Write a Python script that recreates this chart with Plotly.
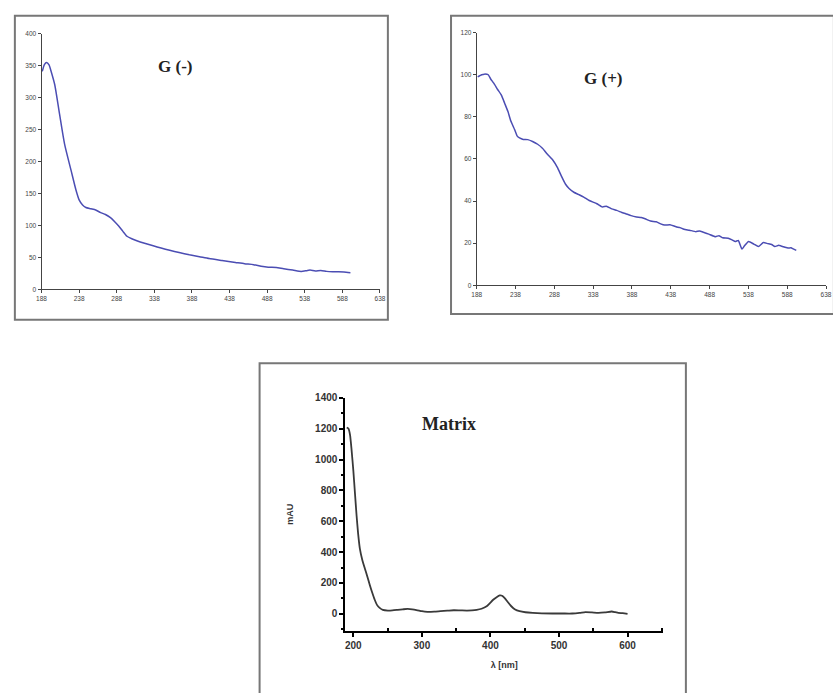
import plotly.graph_objects as go

W, H = 833, 693

# ---- data: G(-) ----
gneg_x = [189, 192, 194.7, 198, 201, 205.6, 212, 218.6, 227.3, 233.9, 238, 242.6, 247, 253.5, 260, 266.6,
          273, 279.7, 285, 290.6, 296, 301.6, 308, 314.7, 325, 336.5, 347, 358.4, 371, 384.6, 398, 410.8,
          428, 445.8, 458, 470, 480, 489.5, 500, 510, 522, 533.2, 540, 545, 552, 559.4, 567, 575, 583, 590, 598.7]
gneg_y = [341, 352, 355, 351, 340, 320, 274, 227.5, 186, 155, 140, 132, 128, 126, 124, 120,
          117, 112, 106, 99, 91, 83, 79, 76, 72, 68, 64.5, 61, 57.5, 54, 51, 48,
          45, 42, 40, 38.5, 36, 34.5, 34, 32, 30, 28, 29, 30, 28.5, 29.5, 28, 27.5, 27.5, 27, 26]

# ---- data: G(+) ----
gpos_x = [189.3, 194.4, 198, 202.9, 206, 210, 215, 219.8, 224, 228.3, 232, 236.8, 240, 243.2, 248, 253.8,
          260, 266.5, 273, 279.2, 286, 291.9, 297, 302.5, 307, 313.2, 320, 325.9, 333, 342.8, 350, 355,
          362, 368.4, 375, 380, 387, 393.9, 400, 405, 412, 419.3, 425, 430, 437, 444.8, 450, 455, 462,
          470.3, 475, 480, 487, 495.7, 500, 505, 512, 517, 521.2, 525, 529.7, 533, 538.2, 545, 550.9,
          557.3, 563, 568, 572.1, 577, 580, 585, 589, 593, 595, 599.7]
gpos_y = [99, 100, 100.3, 100, 98, 96, 93, 90.3, 86.5, 82.5, 78, 74, 71, 70, 69.3, 69.2,
          68.3, 67, 65, 62.2, 59.5, 56, 52, 48, 46, 44.2, 43, 41.9, 40.3, 38.75, 37.2, 37.6,
          36.3, 35.6, 34.6, 34.0, 33.1, 32.5, 32.2, 31.6, 30.5, 30.2, 29.2, 28.6, 28.8, 27.8, 27.4, 26.6, 26.2,
          25.5, 25.8, 25.2, 24.3, 23.1, 23.6, 22.6, 22.4, 21.6, 20.8, 21.3, 17.2, 18.8, 20.8, 19.6, 18.4,
          20.3, 19.8, 19.4, 18.4, 19, 18.7, 18.1, 17.7, 17.8, 17.4, 16.6]

# ---- data: Matrix ----
mat_x = [190.4, 193, 195.2, 197.5, 200, 202.4, 204.8, 207, 209.6, 213, 216.8, 220.5, 224, 227.5, 231.2,
         234.5, 238.4, 243, 250.4, 257, 264.8, 272, 279.2, 286, 293.6, 300, 308, 318,
         327.2, 337, 346.5, 356, 365.7, 373, 380, 387, 394.5, 399, 404, 409, 413.6, 417, 420.8, 425, 430.4,
         436, 442.5, 451, 461.7, 475, 490.5, 505, 519.3, 530,
         538.5, 548, 557.7, 567, 576.9, 582, 586.5, 593, 600]
mat_y = [1208, 1200, 1160, 1060, 930, 780, 634, 520, 421, 350, 294, 240, 187, 138, 91,
         58, 38, 25, 21, 22, 25.5, 29, 32, 29, 23, 17, 13, 14,
         17, 20, 23, 22, 21, 22, 25.5, 33, 49, 68, 91, 108, 119, 117, 102, 78, 49,
         28, 17, 10, 6, 3, 2, 2, 2, 6,
         11, 9, 6, 9, 15, 11, 6, 4, 0]

top_xticks = [188, 238, 288, 338, 388, 438, 488, 538, 588, 638]
gneg_yticks = [0, 50, 100, 150, 200, 250, 300, 350, 400]
gpos_yticks = [0, 20, 40, 60, 80, 100, 120]
mat_xticks = [200, 300, 400, 500, 600]
mat_yticks = [0, 200, 400, 600, 800, 1000, 1200, 1400]


def px(x):
    return x / W


def py(y):
    return 1 - y / H


fig = go.Figure()
blue = "#4b4db3"
fig.add_trace(go.Scatter(x=gneg_x, y=gneg_y, mode="lines",
                         line=dict(color=blue, width=1.5, shape="spline", smoothing=0.6),
                         xaxis="x", yaxis="y", showlegend=False))
fig.add_trace(go.Scatter(x=gpos_x, y=gpos_y, mode="lines",
                         line=dict(color=blue, width=1.5, shape="spline", smoothing=0.4),
                         xaxis="x2", yaxis="y2", showlegend=False))
fig.add_trace(go.Scatter(x=mat_x, y=mat_y, mode="lines",
                         line=dict(color="#3a3a3a", width=1.8, shape="spline", smoothing=0.6),
                         xaxis="x3", yaxis="y3", showlegend=False))

small = dict(family="Arial, Liberation Sans", size=6.5, color="#444")
top_ax = dict(showgrid=False, zeroline=False, showline=True, linecolor="#444", linewidth=1,
              ticks="outside", ticklen=3, tickcolor="#444", tickfont=small)

bold_tick = dict(family="Liberation Sans", size=10, color="#333", weight="bold")

fig.update_layout(
    width=W, height=H, margin=dict(l=0, r=0, t=0, b=0),
    paper_bgcolor="white", plot_bgcolor="white",
    xaxis=dict(domain=[px(37), px(380)], range=[188, 638], tickvals=top_xticks, anchor="y", **top_ax),
    yaxis=dict(domain=[py(287), py(28)], range=[0, 400], tickvals=gneg_yticks, anchor="x", **top_ax),
    xaxis2=dict(domain=[px(478), px(832)], range=[188, 638], tickvals=top_xticks, anchor="y2", **top_ax),
    yaxis2=dict(domain=[py(283), py(27)], range=[0, 120], tickvals=gpos_yticks, anchor="x2", **top_ax),
    xaxis3=dict(domain=[px(345), px(667)], range=[188.5, 652], tickvals=mat_xticks, anchor="y3",
                showgrid=False, zeroline=False, showline=True, linecolor="black", linewidth=2.2,
                ticks="outside", ticklen=4, tickwidth=1.5, tickcolor="black",
                tickfont=bold_tick,
                minor=dict(tickvals=[250, 350, 450, 550, 650], ticks="inside", ticklen=3, tickcolor="black"),
                title=dict(text="λ [nm]", font=dict(family="Liberation Sans", size=9, color="#333", weight="bold"),
                           standoff=12)),
    yaxis3=dict(domain=[py(633), py(397)], range=[-110, 1400], tickvals=mat_yticks, anchor="x3",
                showgrid=False, zeroline=False, showline=True, linecolor="black", linewidth=2.2,
                ticks="outside", ticklen=4, tickwidth=1.5, tickcolor="black",
                tickfont=bold_tick, tickformat="d",
                minor=dict(dtick=100, ticks="outside", ticklen=2, tickcolor="black"),
                title=dict(text="mAU", font=dict(family="Liberation Sans", size=9, color="#333", weight="bold"),
                           standoff=20)),
)

frame = dict(type="rect", xref="paper", yref="paper", line=dict(color="#777", width=2),
             fillcolor="rgba(0,0,0,0)", layer="below")
fig.add_shape(x0=px(10), x1=px(388), y0=py(318), y1=py(10), **frame)
fig.add_shape(x0=px(452), x1=px(840), y0=py(312), y1=py(10), **frame)
fig.add_shape(x0=px(258), x1=px(690), y0=py(698), y1=py(362), **frame)

title_font = dict(family="Liberation Serif", size=17, color="#222")
fig.add_annotation(x=px(153), y=py(50), xref="paper", yref="paper", text="<b>G (-)</b>",
                   showarrow=False, font=title_font)
fig.add_annotation(x=px(627), y=py(62), xref="paper", yref="paper", text="<b>G (+)</b>",
                   showarrow=False, font=title_font)
fig.add_annotation(x=px(450), y=py(423), xref="paper", yref="paper", text="<b>Matrix</b>",
                   showarrow=False, font=dict(family="Liberation Serif", size=18, color="#222"))

fig.write_html("out.html")
